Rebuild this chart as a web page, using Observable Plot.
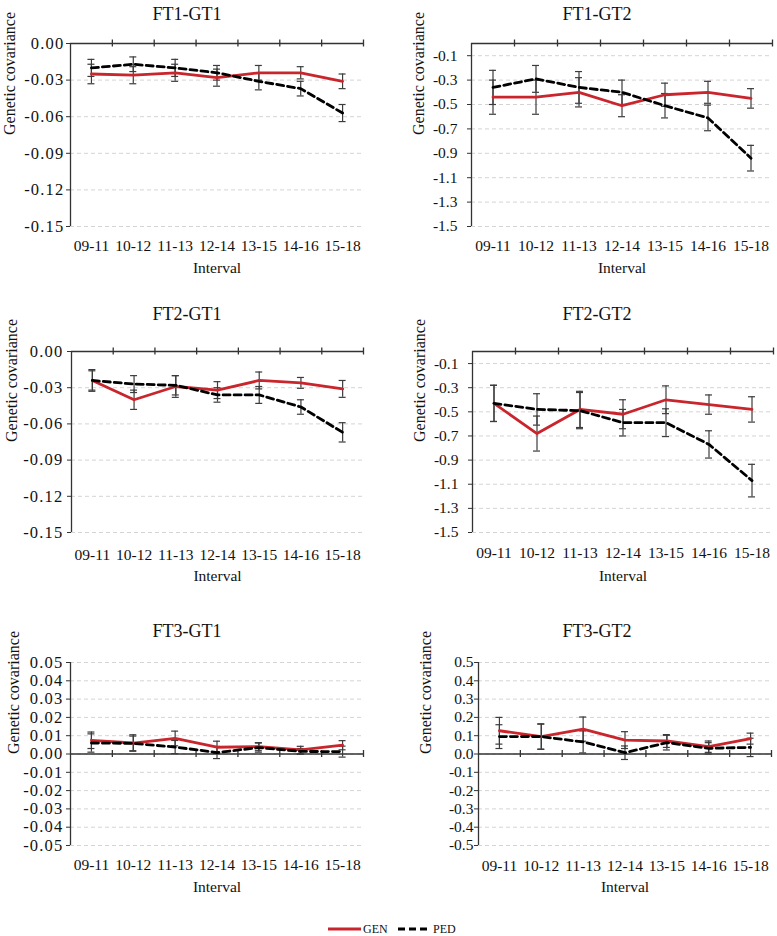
<!DOCTYPE html>
<html><head><meta charset="utf-8">
<script src="https://cdn.jsdelivr.net/npm/d3@7"></script>
<script src="https://cdn.jsdelivr.net/npm/@observablehq/plot@0.6"></script>
<style>
body{margin:0;background:#fff;font-family:"Liberation Serif","Times New Roman",serif;}
#page{position:relative;width:777px;height:936px;overflow:hidden;background:#fff;}
.title{position:absolute;font-size:18px;transform:translate(-50%,-50%);white-space:nowrap;color:#111;}
.panel{position:absolute;}
.panel svg, .panel svg text{font-family:"Liberation Serif","Times New Roman",serif !important;}
.panel.dec2 svg [aria-label^="y-axis"] text{letter-spacing:1.2px;}
.leg{position:absolute;font-size:12px;color:#111;white-space:nowrap;line-height:12px;}
</style></head><body><div id="page"></div>
<script>
const intervals = ["09-11","10-12","11-13","12-14","13-15","14-16","15-18"];

// FT1-GT1
const gen1 = [-0.025, -0.026, -0.024, -0.028, -0.024, -0.024, -0.031];
const gen1Err = [0.008, 0.007, 0.007, 0.007, 0.006, 0.005, 0.006];
const ped1 = [-0.020, -0.017, -0.020, -0.024, -0.031, -0.037, -0.057];
const ped1Err = [0.007, 0.006, 0.007, 0.006, 0.007, 0.006, 0.007];
// FT1-GT2
const gen2 = [-0.44, -0.44, -0.40, -0.51, -0.42, -0.40, -0.45];
const gen2Err = [0.14, 0.14, 0.12, 0.09, 0.095, 0.09, 0.08];
const ped2 = [-0.36, -0.29, -0.36, -0.40, -0.51, -0.61, -0.94];
const ped2Err = [0.14, 0.11, 0.13, 0.10, 0.10, 0.105, 0.105];
// FT2-GT1
const gen3 = [-0.024, -0.040, -0.029, -0.032, -0.024, -0.026, -0.031];
const gen3Err = [0.008, 0.008, 0.009, 0.007, 0.007, 0.0045, 0.007];
const ped3 = [-0.024, -0.027, -0.028, -0.036, -0.036, -0.046, -0.067];
const ped3Err = [0.009, 0.007, 0.008, 0.006, 0.007, 0.006, 0.008];
// FT2-GT2
const gen4 = [-0.43, -0.68, -0.48, -0.52, -0.40, -0.44, -0.48];
const gen4Err = [0.15, 0.145, 0.15, 0.12, 0.115, 0.08, 0.105];
const ped4 = [-0.43, -0.48, -0.49, -0.59, -0.59, -0.77, -1.07];
const ped4Err = [0.15, 0.13, 0.15, 0.11, 0.115, 0.113, 0.135];
// FT3-GT1
const gen5 = [0.0075, 0.006, 0.0085, 0.0037, 0.004, 0.0022, 0.0048];
const gen5Err = [0.0045, 0.0045, 0.004, 0.0033, 0.0022, 0.002, 0.0025];
const ped5 = [0.006, 0.0058, 0.0038, 0.0008, 0.0035, 0.0014, 0.0013];
const ped5Err = [0.005, 0.004, 0.0036, 0.0033, 0.0025, 0.0016, 0.003];
// FT3-GT2
const gen6 = [0.127, 0.095, 0.136, 0.076, 0.071, 0.040, 0.084];
const gen6Err = [0.073, 0.068, 0.066, 0.046, 0.035, 0.031, 0.03];
const ped6 = [0.095, 0.095, 0.066, 0.007, 0.062, 0.031, 0.036];
const ped6Err = [0.065, 0.07, 0.06, 0.037, 0.04, 0.031, 0.05];

const yTicksA = [0, -0.03, -0.06, -0.09, -0.12, -0.15];
const yTicksB = [-0.1, -0.3, -0.5, -0.7, -0.9, -1.1, -1.3, -1.5];
const yTicksC = [0.05, 0.04, 0.03, 0.02, 0.01, 0, -0.01, -0.02, -0.03, -0.04, -0.05];
const yTicksD = [0.5, 0.4, 0.3, 0.2, 0.1, 0, -0.1, -0.2, -0.3, -0.4, -0.5];

const titles = ["FT1-GT1","FT1-GT2","FT2-GT1","FT2-GT2","FT3-GT1","FT3-GT2"];
const seriesNames = ["GEN","PED"];
const yLabel = "Genetic covariance";
const xLabel = "Interval";

const RED = "#c9252c";
const AX = "#333";
const ERR = "#3c3c3c";
const FONT = "Liberation Serif, Times New Roman, serif";

const panels = [
  {title: titles[0], gen: gen1, genErr: gen1Err, ped: ped1, pedErr: ped1Err, domain: [-0.15, 0], ticks: yTicksA, dec: 2,
   px: 0, w: 388, top: 43, bottom: 226, ax: 70, right: 363, ylx: 9, xPad: 13, ilDy: 42, yPad: 2, tx: 187, ty: 14},
  {title: titles[1], gen: gen2, genErr: gen2Err, ped: ped2, pedErr: ped2Err, domain: [-1.5, 0], ticks: yTicksB, dec: 1,
   px: 390, w: 387, top: 43, bottom: 226, ax: 471, right: 772, ylx: 418, xPad: 13, ilDy: 42, yPad: 10, tx: 597, ty: 14},
  {title: titles[2], gen: gen3, genErr: gen3Err, ped: ped3, pedErr: ped3Err, domain: [-0.15, 0], ticks: yTicksA, dec: 2,
   px: 0, w: 388, top: 351, bottom: 532, ax: 71, right: 363, ylx: 11, xPad: 16, ilDy: 44, yPad: 4, tx: 187, ty: 314},
  {title: titles[3], gen: gen4, genErr: gen4Err, ped: ped4, pedErr: ped4Err, domain: [-1.5, 0], ticks: yTicksB, dec: 1,
   px: 390, w: 387, top: 351, bottom: 532, ax: 472, right: 773, ylx: 419, xPad: 14, ilDy: 44, yPad: 10, tx: 597, ty: 314},
  {title: titles[4], gen: gen5, genErr: gen5Err, ped: ped5, pedErr: ped5Err, domain: [-0.05, 0.05], ticks: yTicksC, dec: 2,
   px: 0, w: 388, top: 662, bottom: 845, ax: 70, right: 363, ylx: 13, xPad: 13, ilDy: 42, yPad: 3, tx: 187, ty: 631},
  {title: titles[5], gen: gen6, genErr: gen6Err, ped: ped6, pedErr: ped6Err, domain: [-0.5, 0.5], ticks: yTicksD, dec: 1,
   px: 390, w: 387, top: 662, bottom: 845, ax: 478, right: 771, ylx: 425, xPad: 14, ilDy: 42, yPad: 1, tx: 597, ty: 631}
];

const page = document.getElementById("page");

function errMarks(rows, key) {
  const lo = d => d[key] - d[key + "Err"];
  const hi = d => d[key] + d[key + "Err"];
  return [
    Plot.ruleX(rows, {x: "x", y1: lo, y2: hi, stroke: ERR, strokeWidth: 1.2}),
    Plot.ruleY(rows, {x1: "x", x2: "x", y: hi, insetLeft: -3.5, insetRight: -3.5, stroke: ERR, strokeWidth: 1.2}),
    Plot.ruleY(rows, {x1: "x", x2: "x", y: lo, insetLeft: -3.5, insetRight: -3.5, stroke: ERR, strokeWidth: 1.2})
  ];
}

const hasAxisMarks = typeof Plot.axisX === "function";

for (const p of panels) {
  const rows = intervals.map((k, i) => ({k, x: i + 0.5, gen: p.gen[i], genErr: p.genErr[i], ped: p.ped[i], pedErr: p.pedErr[i]}));
  const mt = 15, mb = 60;
  const h = (p.bottom - p.top) + mt + mb;
  const xTicks = intervals.map((d, i) => i + 0.5);
  const xFmt = v => intervals[Math.round(v - 0.5)];
  const yFmt = v => (Math.abs(v) < 1e-9 ? 0 : v).toFixed(p.dec);
  const yFont = p.dec === 2 ? 16.5 : 15.5;
  const axes = hasAxisMarks ? [
    Plot.axisX({ticks: xTicks, tickFormat: xFmt, tickSize: 0, tickPadding: p.xPad, fontSize: 15.5, label: null, fill: "#111"}),
    Plot.axisY({ticks: p.ticks, tickFormat: yFmt, tickSize: 4, tickPadding: p.yPad, fontSize: yFont, label: null, stroke: AX, fill: "#111"})
  ] : [];
  const svg = Plot.plot({
    width: p.w, height: h,
    marginLeft: p.ax - p.px, marginRight: p.px + p.w - p.right, marginTop: mt, marginBottom: mb,
    style: {fontFamily: FONT, fontSize: "15.5px", color: AX, background: "white", overflow: "visible"},
    x: {domain: [0, intervals.length], ticks: xTicks, tickFormat: xFmt, tickSize: 0, tickPadding: p.xPad, label: null},
    y: {domain: p.domain, ticks: p.ticks, tickFormat: yFmt, tickSize: 4, tickPadding: p.yPad, label: null},
    marks: [
      Plot.ruleY(p.ticks, {stroke: "#d4d4d4", strokeWidth: 1, strokeDasharray: "4,3"}),
      ...axes,
      Plot.ruleY([0], {stroke: AX, strokeWidth: 1.3}),
      Plot.ruleX([0], {stroke: AX, strokeWidth: 1.3}),
      Plot.ruleX(d3.range(1, intervals.length + 1), {x: d => d, y1: () => 0, y2: () => 0, insetTop: -3.5, insetBottom: -3.5, stroke: AX, strokeWidth: 1.3}),
      ...errMarks(rows, "gen"),
      ...errMarks(rows, "ped"),
      Plot.line(rows, {x: "x", y: "gen", stroke: RED, strokeWidth: 2.8}),
      Plot.line(rows, {x: "x", y: "ped", stroke: "#000", strokeWidth: 2.8, strokeDasharray: "7,4"}),
      Plot.text([yLabel], {frameAnchor: "left", text: d => d, rotate: -90, dx: p.ylx - p.ax, fontSize: 16, fill: "#111"}),
      Plot.text([xLabel], {frameAnchor: "bottom", text: d => d, dy: p.ilDy, lineAnchor: "middle", fontSize: 15.5, fill: "#111"})
    ]
  });
  svg.style.fontFamily = FONT;
  svg.querySelectorAll("text").forEach(t => { t.style.fontFamily = FONT; });
  if (!hasAxisMarks) {
    svg.querySelectorAll('[aria-label^="x-axis"] text').forEach(t => { t.style.fontSize = "15.5px"; t.setAttribute("fill", "#111"); });
    svg.querySelectorAll('[aria-label^="y-axis"] text').forEach(t => { t.style.fontSize = yFont + "px"; t.setAttribute("fill", "#111"); });
  }
  const wrap = document.createElement("div");
  wrap.className = "panel" + (p.dec === 2 ? " dec2" : "");
  wrap.style.left = p.px + "px";
  wrap.style.top = (p.top - mt) + "px";
  wrap.appendChild(svg);
  page.appendChild(wrap);
  const t = document.createElement("div");
  t.className = "title";
  t.style.left = p.tx + "px";
  t.style.top = p.ty + "px";
  t.textContent = p.title;
  page.appendChild(t);
}

// legend
function legItem(x, label, stroke, dash) {
  const s = document.createElementNS("http://www.w3.org/2000/svg", "svg");
  s.setAttribute("width", 34); s.setAttribute("height", 8);
  s.style.position = "absolute"; s.style.left = x + "px"; s.style.top = "925px";
  const l = document.createElementNS("http://www.w3.org/2000/svg", "line");
  l.setAttribute("x1", 0); l.setAttribute("x2", 33); l.setAttribute("y1", 4); l.setAttribute("y2", 4);
  l.setAttribute("stroke", stroke); l.setAttribute("stroke-width", 2.8);
  if (dash) l.setAttribute("stroke-dasharray", dash);
  s.appendChild(l);
  page.appendChild(s);
  const d = document.createElement("div");
  d.className = "leg"; d.style.left = (x + 35) + "px"; d.style.top = "923px";
  d.textContent = label;
  page.appendChild(d);
}
legItem(328, seriesNames[0], RED, null);
legItem(398, seriesNames[1], "#000", "7,4");
</script></body></html>
